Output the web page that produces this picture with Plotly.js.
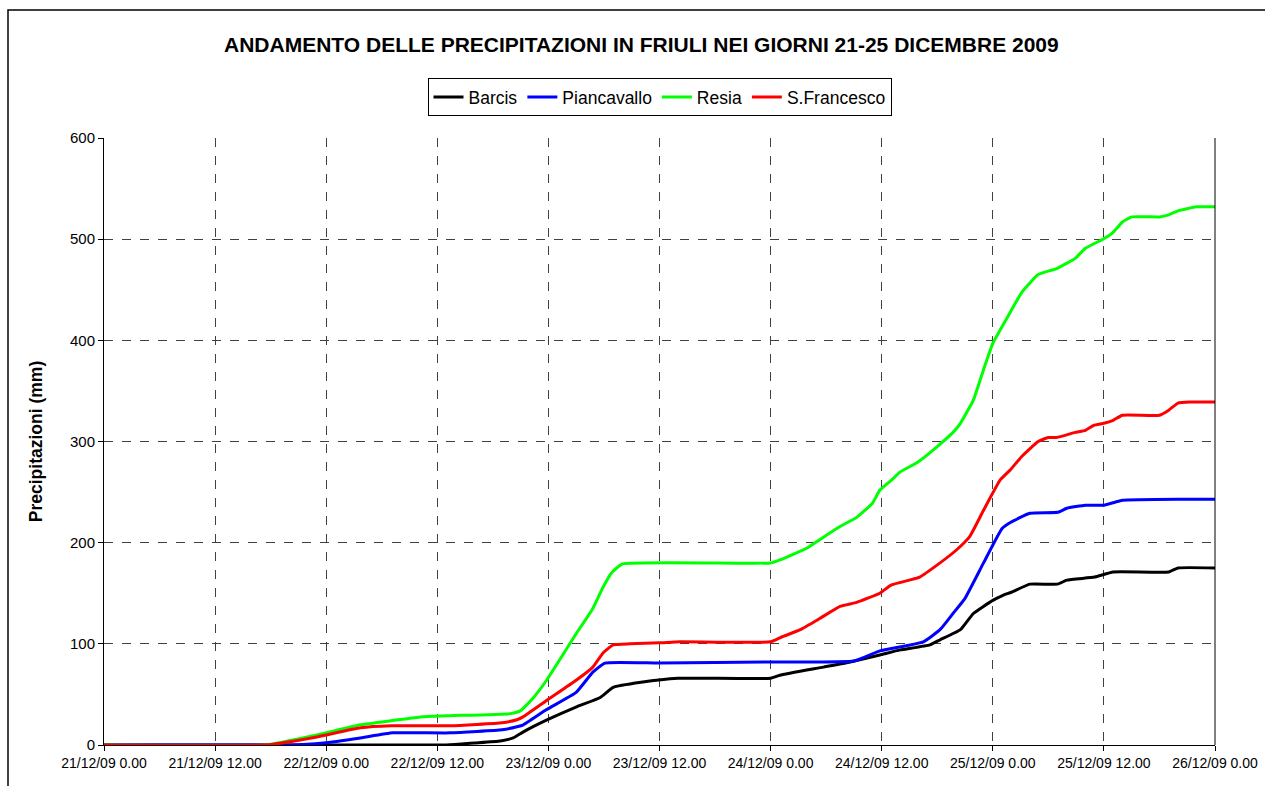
<!DOCTYPE html>
<html>
<head>
<meta charset="utf-8">
<script src="https://cdn.plot.ly/plotly-3.0.1.min.js"></script>
<style>html,body{margin:0;padding:0;background:#fff;}#chart{width:1265px;height:786px;}</style>
</head>
<body>
<div id="chart"></div>
<script>
// hours from 21/12/09 0.00
const tickHours = [0,12,24,36,48,60,72,84,96,108,120];
const tickLabels = ["21/12/09 0.00","21/12/09 12.00","22/12/09 0.00","22/12/09 12.00","23/12/09 0.00","23/12/09 12.00","24/12/09 0.00","24/12/09 12.00","25/12/09 0.00","25/12/09 12.00","26/12/09 0.00"];

const barcisH = [0,37,40,42.8,44.2,45.3,47.9,51.1,53.6,55,58,62,72,73,77.7,80.6,83.8,86,89.2,90.3,92.5,93.9,96,97.1,98,100,103,104,107,109,115,116,120];
const barcisV = [0,0,2,4,7,13,25,38,47,57,62,66,66,69,77,82,89,94,99,104,114,130,143,148,151,159,159,163,166,171,171,175,175];

const piancH = [0,18,20,23.7,27.7,31.2,37.4,43,44.6,45.3,47.8,51,52.8,54.1,60,72,81,83.8,88.5,90.3,91.7,93,95,97,97.9,100,103,104,106,108,109.2,110,116,120];
const piancV = [0,0,0,2,7,12,12,15,18,20,35,52,72,81,81,82,83,93,102,114,130,145,180,214,220,229,230,234,237,237,240,242,243,243];

const resiaH = [0,17.4,23,27.7,31,34.5,37.4,43.9,45,46.4,47.8,51,52.8,53.9,54.9,56,72,73,76,77.3,79.5,81.3,83,83.8,85.2,86,87.8,90,91.7,92.5,93.9,95,96,97.9,99.1,100.9,102.9,104.9,106,107.9,108.9,110,111,114,115,116,118,120];
const resiaV = [0,0,10,20,24,28,29,31,34,47,64,110,135,156,171,179,180,183,195,203,216,225,239,252,263,270,279,295,309,318,341,371,397,428,447,465,471,481,491,500,506,517,522,522,524,528,532,532];

const sfrancH = [0,17.4,23,27.7,31,37.4,43,44.6,45.3,47.8,51,52.8,53.9,55,56.8,60,62.2,72,73,75.2,77.3,79.5,81.3,83.8,85,87,88.1,90.3,92.1,93.5,95,96.8,97.9,99.1,100.9,102,102.9,104.9,106,106.9,108,109,110,114,115,116,117.3,120];
const sfrancV = [0,0,8,17,19,19,22,25,28,44,64,77,91,99,100,101,102,102,106,114,125,137,141,150,158,163,166,180,193,206,232,262,272,285,300,304,304,309,311,316,318,321,326,326,331,338,339,339];

const yTicks = [0,100,200,300,400,500,600];

const names = ["Barcis","Piancavallo","Resia","S.Francesco"];
const colors = ["#000000","#0000ff","#00ff00","#ff0000"];
const xs = [barcisH, piancH, resiaH, sfrancH];
const ys = [barcisV, piancV, resiaV, sfrancV];

const traces = names.map((n,i)=>({
  type:'scatter', mode:'lines', name:n, x:xs[i], y:ys[i],
  line:{color:colors[i], width:3, shape:'spline', smoothing:0.4}
}));

const pw = 1111, ph = 607;
const FONT = 'Arial, "Liberation Sans", sans-serif';
const layout = {
  width:1265, height:786,
  margin:{l:104, r:50, t:138, b:41},
  paper_bgcolor:'#ffffff', plot_bgcolor:'#ffffff',
  font:{family:FONT, color:'#000'},
  title:{text:'<b>ANDAMENTO DELLE PRECIPITAZIONI IN FRIULI NEI GIORNI 21-25 DICEMBRE 2009</b>',
    font:{size:21, family:FONT, color:'#000'},
    x:0.507, xanchor:'center', y:0.943, yanchor:'middle'},
  showlegend:true,
  legend:{orientation:'h', x:0.5, xanchor:'center', y:(745-97)/ph, yanchor:'middle',
    bordercolor:'#000', borderwidth:1, bgcolor:'#fff',
    font:{size:17.5, family:FONT},
    itemwidth:30, tracegroupgap:0, itemclick:false},
  xaxis:{range:[0,120], tickmode:'array', tickvals:tickHours, ticktext:tickLabels,
    showgrid:true, gridcolor:'#404040', griddash:'dash', gridwidth:1,
    showline:true, linecolor:'#000', linewidth:1,
    ticks:'outside', ticklen:5, tickcolor:'#000',
    tickfont:{size:14}, zeroline:false, fixedrange:true},
  yaxis:{range:[0,600], tickmode:'array', tickvals:yTicks,
    showgrid:true, gridcolor:'#404040', griddash:'dash', gridwidth:1,
    showline:true, linecolor:'#000', linewidth:1,
    ticks:'outside', ticklen:5, tickcolor:'#000',
    tickfont:{size:15}, zeroline:false, fixedrange:true,
    title:{text:'<b>Precipitazioni (mm)</b>', font:{size:17.5}, standoff:22}},
  shapes:[
    {type:'line', xref:'paper', yref:'paper', x0:1, x1:1, y0:0, y1:1, line:{color:'#000', width:1}},
    {type:'rect', xref:'paper', yref:'paper', x0:(8-104)/pw, x1:(1290-104)/pw, y0:(745-800)/ph, y1:(745-10)/ph, line:{color:'#000', width:1.5}, layer:'below'}
  ]
};
Plotly.newPlot('chart', traces, layout, {displayModeBar:false, staticPlot:true});
</script>
</body>
</html>
